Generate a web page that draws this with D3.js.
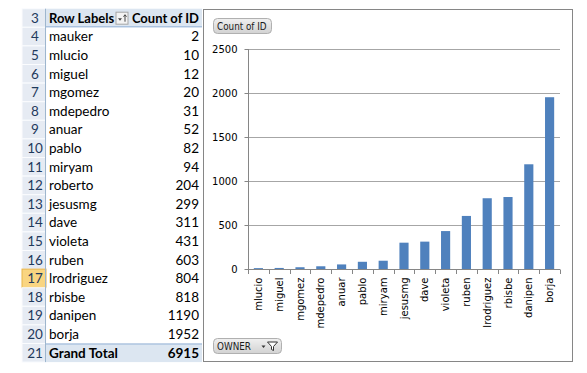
<!DOCTYPE html>
<meta charset="utf-8">
<style>
body { margin: 0; background: #fff; }
svg { display: block; }
.cell { font: 13.5px Lato, "Open Sans", sans-serif; fill: #000; }
.head { font: bold 13px Lato, "Open Sans", sans-serif; fill: #000; }
.rownum { font: 13.5px Lato, "Open Sans", sans-serif; fill: #1f3a5c; text-anchor: middle; }
.axis text { font: 10px "DejaVu Sans", sans-serif; fill: #000; }
.btn text { font: 9.8px "DejaVu Sans Condensed", "DejaVu Sans", sans-serif; fill: #1a1a1a; }
</style>
<svg width="587" height="373"></svg>
<script src="https://d3js.org/d3.v7.min.js"></script>
<script>

// pivot table rows (sheet rows 4..20)
var owners = ["mauker", "mlucio", "miguel", "mgomez", "mdepedro", "anuar", "pablo", "miryam",
	"roberto", "jesusmg", "dave", "violeta", "ruben", "lrodriguez", "rbisbe", "danipen", "borja"];
var counts = [2, 10, 12, 20, 31, 52, 82, 94, 204, 299, 311, 431, 603, 804, 818, 1190, 1952];
var grandTotal = 6915;

// owners filtered out of the chart
var hidden = ["mauker", "roberto"];

var yTicks = [0, 500, 1000, 1500, 2000, 2500];

var svg = d3.select("svg");

// ---------- pivot table ----------
var top0 = 8.7, rowH = 18.6,
	numX0 = 22, numX1 = 46, tblX1 = 202;

var rows = [{num: 3, header: true}];
owners.forEach(function(o, i) { rows.push({num: 4 + i, name: o, value: counts[i]}); });
rows.push({num: 21, total: true, name: "Grand Total", value: grandTotal});

var tbl = svg.append("g");

// row header column
tbl.selectAll("rect.rh")
  .data(rows)
  .enter().append("rect")
	.attr("class", "rh")
	.attr("x", numX0)
	.attr("y", function(d, i) { return top0 + i * rowH; })
	.attr("width", numX1 - numX0)
	.attr("height", rowH)
	.style("fill", function(d) { return d.num === 17 ? "#f9d581" : "#e6ebf3"; })
	.style("stroke", function(d) { return d.num === 17 ? "#e8b54a" : "#fbfcfe"; })
	.style("stroke-width", 1);

tbl.append("line")
	.attr("x1", numX1 - 0.5).attr("x2", numX1 - 0.5)
	.attr("y1", top0).attr("y2", top0 + rows.length * rowH)
	.style("stroke", "#9eb6ce");

// header and total row fills
rows.forEach(function(d, i) {
	if (d.header || d.total) {
		var y = top0 + i * rowH;
		tbl.append("rect")
			.attr("x", numX1).attr("y", y)
			.attr("width", tblX1 - numX1).attr("height", rowH)
			.style("fill", "#dce6f1");
		tbl.append("line")
			.attr("x1", numX1).attr("x2", tblX1)
			.attr("y1", d.header ? y + rowH - 0.5 : y + 0.5)
			.attr("y2", d.header ? y + rowH - 0.5 : y + 0.5)
			.style("stroke", "#95b3d7");
	}
});

tbl.selectAll("text.rownum")
  .data(rows)
  .enter().append("text")
	.attr("class", "rownum")
	.attr("x", (numX0 + numX1) / 2 + 1)
	.attr("y", function(d, i) { return top0 + i * rowH + rowH / 2; })
	.attr("dy", "0.36em")
	.text(function(d) { return d.num; });

tbl.selectAll("text.name")
  .data(rows.filter(function(d) { return !d.header; }))
  .enter().append("text")
	.attr("class", "cell")
	.attr("x", numX1 + 3)
	.attr("y", function(d) { return top0 + (d.num - 3) * rowH + rowH / 2; })
	.attr("dy", "0.36em")
	.style("font-weight", function(d) { return d.total ? "bold" : null; })
	.text(function(d) { return d.name; });

tbl.selectAll("text.val")
  .data(rows.filter(function(d) { return !d.header; }))
  .enter().append("text")
	.attr("class", "cell")
	.attr("x", tblX1 - 3)
	.attr("y", function(d) { return top0 + (d.num - 3) * rowH + rowH / 2; })
	.attr("dy", "0.36em")
	.attr("text-anchor", "end")
	.style("font-weight", function(d) { return d.total ? "bold" : null; })
	.text(function(d) { return d.value; });

// header texts
var hy = top0 + rowH / 2;
tbl.append("text").attr("class", "head")
	.attr("x", numX1 + 3).attr("y", hy).attr("dy", "0.36em")
	.text("Row Labels");
tbl.append("text").attr("class", "head")
	.attr("x", tblX1 - 3).attr("y", hy).attr("dy", "0.36em")
	.attr("text-anchor", "end")
	.text("Count of ID");

// sort / filter dropdown button in header
var sb = tbl.append("g").attr("transform", "translate(116," + (top0 + 3.5) + ")");
sb.append("rect").attr("width", 12).attr("height", 12)
	.style("fill", "#f3f3f3").style("stroke", "#a5a5a5");
sb.append("path").attr("d", "M2,6 L6,6 L4,8.5 Z").style("fill", "#444");
sb.append("path").attr("d", "M9,9.5 L9,3 M7.5,4.5 L9,2.5 L10.5,4.5")
	.style("stroke", "#444").style("fill", "none");

// ---------- chart ----------
var chartNames = owners.filter(function(o) { return hidden.indexOf(o) < 0; });
var chartValues = chartNames.map(function(o) { return counts[owners.indexOf(o)]; });

svg.append("rect")
	.attr("x", 203.5).attr("y", 9.5)
	.attr("width", 369).attr("height", 352)
	.style("fill", "#fff")
	.style("stroke", "#868686");

var x = d3.scaleBand()
	.domain(chartNames)
	.range([248, 560])
	.paddingInner(0.56)
	.paddingOuter(0.28);

var y = d3.scaleLinear()
	.domain([0, 2500])
	.range([269, 49]);

var chart = svg.append("g");

chart.append("g")
	.selectAll("line")
	.data(yTicks.slice(1))
	.enter().append("line")
	.attr("x1", 248).attr("x2", 560)
	.attr("y1", function(d) { return Math.round(y(d)) + 0.5; })
	.attr("y2", function(d) { return Math.round(y(d)) + 0.5; })
	.style("stroke", "#a6a6a6");

chart.selectAll("rect.bar")
	.data(chartValues)
	.enter().append("rect")
	.attr("class", "bar")
	.attr("x", function(d, i) { return x(chartNames[i]); })
	.attr("y", function(d) { return y(d); })
	.attr("width", x.bandwidth())
	.attr("height", function(d) { return y(0) - y(d); })
	.style("fill", "#4f81bd");

var yAxis = chart.append("g")
	.attr("class", "axis")
	.attr("transform", "translate(248.5,0)")
	.call(d3.axisLeft(y).tickValues(yTicks).tickFormat(d3.format("d")).tickSize(4).tickPadding(7));
yAxis.select(".domain").attr("d", "M0," + y(2500) + "V" + (y(0) + 0.5));

var xAxis = chart.append("g")
	.attr("class", "axis")
	.attr("transform", "translate(0," + (Math.round(y(0)) + 0.5) + ")")
	.call(d3.axisBottom(x).tickSize(0).tickPadding(0));
xAxis.select(".domain").attr("d", "M248,0H560");
xAxis.selectAll(".tick text")
	.attr("transform", "rotate(-90)")
	.attr("x", -8)
	.attr("y", 0)
	.attr("dy", "0.35em")
	.style("text-anchor", "end");

// category boundary ticks
chart.append("g")
	.selectAll("line")
	.data(d3.range(chartNames.length + 1))
	.enter().append("line")
	.attr("x1", function(i) { return Math.round(248 + i * (312 / chartNames.length)) + 0.5; })
	.attr("x2", function(i) { return Math.round(248 + i * (312 / chartNames.length)) + 0.5; })
	.attr("y1", Math.round(y(0)) + 0.5)
	.attr("y2", Math.round(y(0)) + 5)
	.style("stroke", "#868686");

chart.selectAll(".axis .domain, .axis .tick line").style("stroke", "#868686");

// field buttons
function fieldButton(bx, by, w, label, withFilter) {
	var b = svg.append("g").attr("class", "btn").attr("transform", "translate(" + bx + "," + by + ")");
	var grad = "g" + Math.round(bx) + "_" + Math.round(by);
	var lg = svg.append("defs").append("linearGradient").attr("id", grad)
		.attr("x1", 0).attr("y1", 0).attr("x2", 0).attr("y2", 1);
	lg.append("stop").attr("offset", 0).attr("stop-color", "#f0f0f0");
	lg.append("stop").attr("offset", 1).attr("stop-color", "#d2d2d2");
	b.append("rect").attr("width", w).attr("height", 15).attr("rx", 4)
		.style("fill", "url(#" + grad + ")").style("stroke", "#b0b0b0");
	b.append("text").attr("x", 3.5).attr("y", 7.5).attr("dy", "0.36em").text(label);
	if (withFilter) {
		b.append("path").attr("d", "M" + (w - 20) + ",7 L" + (w - 16) + ",7 L" + (w - 18) + ",9.5 Z").style("fill", "#333");
		b.append("path").attr("d", "M" + (w - 14) + ",3.5 L" + (w - 4) + ",3.5 L" + (w - 8) + ",8 L" + (w - 8) + ",12 L" + (w - 10) + ",11 L" + (w - 10) + ",8 Z")
			.style("fill", "#fff").style("stroke", "#333");
	}
}
fieldButton(213.5, 18.5, 58, "Count of ID", false);
fieldButton(213.5, 338.5, 68, "OWNER", true);

</script>
